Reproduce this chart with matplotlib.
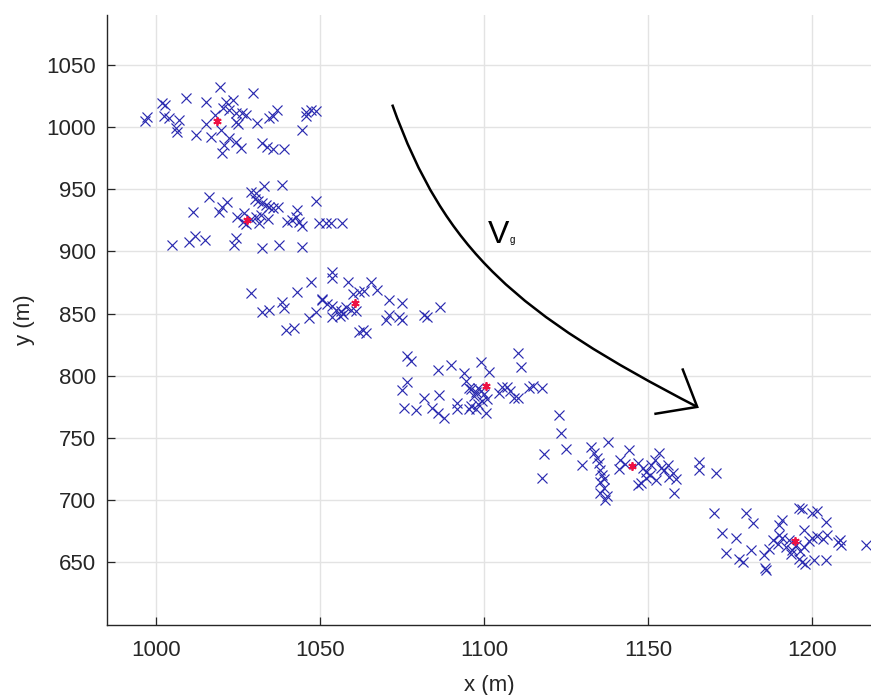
import numpy as np
from matplotlib import pyplot as plt
from matplotlib.path import Path
from matplotlib.patches import PathPatch

# scatter points of the six groups, (x, y) in metres
group1 = [(996.6, 1005.1), (997.2, 1008), (1001.9, 1019.5), (1002.7, 1018), (1002.4, 1008.8),
          (1003.8, 1007), (1007, 1006), (1006, 999), (1006.5, 996), (1009.2, 1023.6),
          (1015.3, 1020.4), (1012.1, 993.6), (1015.1, 1002.2), (1019.4, 1031.9), (1016.7, 991.7),
          (1021.2, 1020.4), (1023.3, 1021.7), (1022.3, 1013.7), (1024.3, 1011), (1026.3, 1011),
          (1024.3, 1004.3), (1025, 1002), (1019.7, 997.6), (1022.3, 990.9), (1020.7, 985.5),
          (1020.2, 978.8), (1024.3, 988.2), (1025.8, 982.9), (1029.4, 1027.1), (1027.3, 1009.6),
          (1030.9, 1003.5), (1032.4, 986.9), (1033.9, 984.2), (1035.7, 982.1), (1039, 982.1),
          (1034.5, 1007), (1037, 1013.7), (1035.5, 1009), (1044.6, 997.6), (1045.6, 1012.3),
          (1047.2, 1013.7), (1048.7, 1013.1), (1045.6, 1008.8), (1020.5, 1015), (1018, 1010)]
group2 = [(1016.2, 944), (1011.1, 931.9), (1004.8, 905.1), (1010.1, 907.8), (1011.9, 912.4),
          (1014.9, 909.2), (1019.2, 931.9), (1020.2, 935.9), (1021.7, 940), (1023.8, 905.1),
          (1024.3, 910.5), (1026.8, 930.6), (1028.9, 948), (1030.4, 946.7), (1032.9, 952.6),
          (1038.5, 953.4), (1030, 942), (1031.2, 940.5), (1032.3, 939), (1033.4, 937.5),
          (1034.5, 936), (1035.6, 935), (1030.5, 928), (1032, 929), (1029, 926), (1027.5, 922),
          (1031.5, 922.5), (1034, 926), (1032.4, 902.5), (1037.5, 905.1), (1044.4, 903.8),
          (1037.3, 935.9), (1043.1, 933.3), (1048.7, 940.8), (1040, 923.9), (1041.5, 925),
          (1042.5, 927.5), (1043.6, 923.9), (1044.6, 920.4), (1049.7, 922.6), (1051.7, 923.1),
          (1053.2, 923.1), (1056.8, 922.6), (1024.8, 928), (1026.5, 924)]
group3 = [(1028.9, 866.3), (1032.4, 851.5), (1034.5, 852.9), (1038.5, 859.6), (1039, 854.3),
          (1039.5, 836.8), (1042.1, 838.2), (1043.1, 867.6), (1047.2, 875.6), (1046.6, 846.2),
          (1048.7, 851.5), (1050.7, 860.9), (1052, 858), (1053.5, 856), (1055, 853),
          (1056.5, 852), (1058, 855), (1059.5, 853), (1061, 852), (1056, 848), (1053.5, 847.5),
          (1053.7, 883.7), (1053.7, 878.4), (1058.6, 875.6), (1060, 866), (1062, 867.5),
          (1063.5, 868.5), (1065.5, 875.6), (1067.5, 869), (1071, 861), (1075.1, 858.3),
          (1070, 845), (1071, 849), (1074, 847), (1075, 845), (1062, 835), (1063, 836.5),
          (1064, 834), (1081.7, 848.9), (1082.5, 847), (1086.5, 855.1), (1050.5, 862), (1057, 850)]
group4 = [(1076.6, 816), (1077.6, 812), (1076.6, 795), (1075.1, 788.6), (1075.6, 773.9),
          (1079.1, 772.5), (1081.7, 781.9), (1084, 774), (1086, 770), (1087.8, 766),
          (1086.3, 784.6), (1086.1, 804.7), (1089.8, 808.7), (1091.8, 778), (1091.8, 773),
          (1093.9, 802), (1094.6, 796), (1095.4, 790), (1096, 789), (1097.5, 787), (1098, 790),
          (1099, 788), (1096, 776), (1097.5, 773), (1095.5, 773), (1099.5, 780), (1100, 785),
          (1099, 811.3), (1100.5, 769.8), (1101.5, 803.4), (1104.6, 786), (1105.5, 791),
          (1107, 791), (1108, 788), (1109, 782), (1110.5, 782), (1110.2, 818), (1111.2, 807),
          (1113.7, 790), (1115, 792), (1117.7, 790), (1098, 777), (1097, 784), (1100.8, 781)]
group5 = [(1122.9, 768.5), (1123.6, 754.3), (1124.9, 740.9), (1118.3, 736.9), (1117.8, 718.1),
          (1130, 728.3), (1132.5, 743), (1133.5, 738), (1134.5, 734), (1135, 730),
          (1137.9, 747), (1135.5, 724), (1136, 720), (1135.5, 715), (1136.5, 710),
          (1135.5, 706), (1137.5, 703), (1137, 700), (1136.5, 717), (1141, 725), (1141.5, 732),
          (1143, 729), (1144.2, 740.4), (1147, 730), (1148.5, 726), (1149.5, 723), (1151, 728),
          (1152, 732), (1153.5, 738), (1148, 714), (1147, 712), (1149.5, 718), (1154, 726),
          (1156, 728), (1156.5, 719), (1157.5, 722), (1158.5, 717), (1155, 724),
          (1157.9, 706), (1165.5, 724), (1165.5, 731), (1170.6, 722), (1150.5, 720), (1152.5, 716)]
group6 = [(1170.1, 690), (1179.8, 689.5), (1182, 681.4), (1172.7, 673.4), (1176.7, 669.4),
          (1173.7, 657.8), (1177.7, 653), (1179, 650), (1181.3, 660), (1185.7, 645.3),
          (1186, 644), (1185.4, 656), (1190.9, 684), (1190, 680), (1196, 694), (1197, 693),
          (1200, 690), (1201.5, 691), (1204.2, 682.7), (1188, 668), (1189.5, 665), (1191, 670),
          (1192, 662), (1193, 668), (1194, 660), (1195, 664), (1193.5, 657), (1196, 653),
          (1197, 650), (1190, 672), (1197.6, 676), (1197.6, 662), (1196.5, 659), (1197.9, 649),
          (1200.6, 652), (1200, 670), (1201.5, 671), (1203.5, 669), (1204.6, 672),
          (1204.2, 652), (1208, 666), (1209, 664), (1208.5, 668), (1216.4, 664), (1187, 661),
          (1199, 667)]
groups = [group1, group2, group3, group4, group5, group6]

# group centres (red asterisks)
centre_x = [1018.7, 1027.8, 1060.7, 1100.5, 1145.2, 1194.7]
centre_y = [1005.1, 925.2, 858.3, 791.5, 727.4, 667.0]

# curved arrow (cubic bezier) and its head
arrow_ctrl = [(1072, 1018), (1088, 900), (1110, 850), (1165, 775)]
head_a = (1160.6, 805)
head_b = (1152.3, 769.5)

plt.rcParams['font.family'] = ['Liberation Sans', 'DejaVu Sans']
fig = plt.figure(figsize=(8.71, 6.95), dpi=100)
ax = fig.add_axes([0.1228, 0.1013, 0.8772, 0.8771])

for g in groups:
    pts = np.array(g)
    ax.plot(pts[:, 0], pts[:, 1], 'x', color='#2b2bb0', markersize=7.5, mew=0.85, zorder=3)
ax.plot(centre_x, centre_y, ls='none', marker=(6, 2, 0), color='#ee1144',
        markersize=6, mew=1.3, zorder=4)

path = Path(arrow_ctrl, [Path.MOVETO, Path.CURVE4, Path.CURVE4, Path.CURVE4])
ax.add_patch(PathPatch(path, facecolor='none', edgecolor='black', lw=1.8, zorder=5))
tip = arrow_ctrl[-1]
ax.plot([head_a[0], tip[0], head_b[0]], [head_a[1], tip[1], head_b[1]],
        color='black', lw=1.8, solid_joinstyle='miter', zorder=5)

ax.text(1101.3, 906.5, 'V', fontsize=23, color='black', va='baseline', ha='left')
ax.text(1107.8, 906.5, 'g', fontsize=7, color='black', va='baseline', ha='left')

ax.set_xlim(985, 1218)
ax.set_ylim(600, 1090)
ax.set_xticks([1000, 1050, 1100, 1150, 1200])
ax.set_yticks([650, 700, 750, 800, 850, 900, 950, 1000, 1050])
ax.grid(True, color='#e3e3e3', lw=1.0, zorder=0)
ax.set_axisbelow(True)
for s in ['top', 'right']:
    ax.spines[s].set_visible(False)
for s in ['left', 'bottom']:
    ax.spines[s].set_color('#262626')
    ax.spines[s].set_linewidth(1.0)
ax.tick_params(direction='in', length=5.5, width=0.9, colors='#262626', labelsize=16)
ax.tick_params(axis='x', pad=11)
ax.tick_params(axis='y', pad=8)
ax.set_xlabel('x (m)', fontsize=16, color='#262626', labelpad=10)
ax.set_ylabel('y (m)', fontsize=16, color='#262626', labelpad=8)

fig.savefig('out.png', dpi=100)
